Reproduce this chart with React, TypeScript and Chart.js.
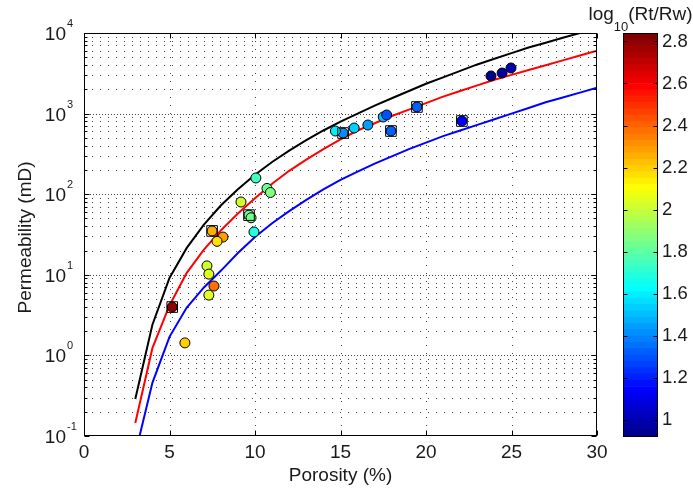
import React, { useEffect, useRef } from "react";
import { Chart, registerables } from "chart.js";

Chart.register(...registerables);

// ---- model curves: permeability (mD) sampled at integer porosity (%) ----
const PHI_CURVE = [3, 4, 5, 6, 7, 8, 9, 10, 11, 12, 13, 14, 15, 16, 17, 18, 19, 20, 21, 22, 23, 24, 25, 26, 27, 28, 29, 30];
const K_BLACK = [0.288, 2.4, 9.12, 21.4, 41.7, 72.4, 115, 174, 251, 347, 468, 617, 794, 1000, 1259, 1549, 1905, 2344, 2818, 3388, 4074, 4786, 5623, 6607, 7586, 8710, 10000, 11482];
const K_RED = [0.145, 1.23, 4.17, 10.5, 20.4, 35.5, 57.5, 89.1, 135, 195, 269, 363, 479, 617, 759, 933, 1122, 1349, 1622, 1905, 2239, 2630, 3020, 3467, 3981, 4571, 5248, 6026];
const K_BLUE = [0.0603, 0.457, 1.7, 3.89, 6.92, 11.2, 18.6, 29.5, 43.7, 61.7, 85.1, 115, 151, 191, 240, 295, 363, 437, 525, 617, 724, 851, 1000, 1175, 1380, 1585, 1820, 2089];

// ---- core samples: porosity (%), permeability (mD), log10(Rt/Rw) ----
const SAMPLE_PHI = [23.8, 24.45, 24.97, 22.1, 19.47, 17.5, 17.7, 17.95, 16.6, 15.8, 15.15, 14.7, 10.05, 10.7, 10.9, 9.18, 9.65, 9.77, 9.94, 7.49, 8.13, 7.78, 7.19, 7.3, 7.6, 7.3, 5.16, 5.9];
const SAMPLE_K = [2930, 3190, 3680, 809, 1208, 908, 961, 608, 722, 662, 574, 608, 159, 118, 105, 80, 55, 51, 34, 35, 29.4, 26, 12.9, 10.2, 7.26, 5.6, 3.98, 1.43];
const SAMPLE_LOGR = [0.95, 0.97, 1.0, 1.16, 1.33, 1.5, 1.28, 1.33, 1.45, 1.52, 1.42, 1.59, 1.74, 1.84, 1.88, 2.0, 1.83, 1.82, 1.69, 2.26, 2.28, 2.17, 2.0, 2.05, 2.36, 2.05, 2.79, 2.19];

// samples highlighted with an open square
const BOXED_PHI = [22.1, 19.47, 17.95, 15.15, 9.65, 7.49, 5.16];
const BOXED_K = [809, 1208, 608, 574, 55, 35, 3.98];

// ---- axes ----
const X_TICKS = [0, 5, 10, 15, 20, 25, 30];
const Y_DECADES = [-1, 0, 1, 2, 3, 4];
const CB_TICKS = [1, 1.2, 1.4, 1.6, 1.8, 2, 2.2, 2.4, 2.6, 2.8];
const CB_MIN = 0.92;
const CB_MAX = 2.84;
const CMAP_LEVELS = 64;

const FONT = "'Liberation Sans', Arial, Helvetica, sans-serif";
const TEXT = "#1a1a1a";
const GRID = "#444";

// jet colormap entry k = 1..64
function jetColor(k: number): string {
  const c = (v: number) => Math.max(0, Math.min(1, v));
  const r = c(Math.min((k - 24) / 16, (72 - k) / 16));
  const g = c(Math.min((k - 8) / 16, (56 - k) / 16));
  const b = c(Math.min((k + 8) / 16, (40 - k) / 16));
  return `rgb(${Math.round(r * 255)},${Math.round(g * 255)},${Math.round(b * 255)})`;
}
function colorFor(v: number): string {
  let k = Math.floor(((v - CB_MIN) / (CB_MAX - CB_MIN)) * CMAP_LEVELS) + 1;
  k = Math.max(1, Math.min(CMAP_LEVELS, k));
  return jetColor(k);
}

const axesDecor = {
  id: "axesDecor",
  beforeDatasetsDraw(chart: any) {
    const { ctx, chartArea: a, scales } = chart;
    const xs = scales.x;
    const ys = scales.y;
    ctx.save();
    ctx.strokeStyle = GRID;
    ctx.lineWidth = 1;
    ctx.setLineDash([1, 7]);
    for (const v of X_TICKS) {
      if (v <= xs.min || v >= xs.max) continue;
      const x = Math.round(xs.getPixelForValue(v)) + 0.5;
      ctx.beginPath();
      ctx.moveTo(x, a.top);
      ctx.lineTo(x, a.bottom);
      ctx.stroke();
    }
    for (const d of Y_DECADES) {
      for (let m = 1; m <= 9; m++) {
        const v = m * Math.pow(10, d);
        if (v <= ys.min * 1.0001 || v >= ys.max * 0.9999) continue;
        const y = Math.round(ys.getPixelForValue(v)) + 0.5;
        ctx.setLineDash(m === 1 ? [1, 2] : [1, 7]);
        ctx.beginPath();
        ctx.moveTo(a.left, y);
        ctx.lineTo(a.right, y);
        ctx.stroke();
      }
    }
    ctx.restore();
  },
  afterDraw(chart: any) {
    const { ctx, chartArea: a, scales } = chart;
    const xs = scales.x;
    const ys = scales.y;
    ctx.save();
    ctx.strokeStyle = "#000";
    ctx.lineWidth = 1;
    ctx.setLineDash([]);
    const L = a.left + 0.5, R = a.right - 0.5, T = a.top + 0.5, B = a.bottom - 0.5;
    ctx.strokeRect(L, T, R - L, B - T);

    // tick marks pointing inward
    ctx.beginPath();
    for (const v of X_TICKS) {
      const x = Math.round(xs.getPixelForValue(v)) + 0.5;
      ctx.moveTo(x, B); ctx.lineTo(x, B - 5);
      ctx.moveTo(x, T); ctx.lineTo(x, T + 5);
    }
    for (const d of Y_DECADES) {
      for (let m = 1; m <= 9; m++) {
        const v = m * Math.pow(10, d);
        if (v < ys.min * 0.9999 || v > ys.max * 1.0001) continue;
        const y = Math.round(ys.getPixelForValue(v)) + 0.5;
        const len = m === 1 ? 5 : 3;
        ctx.moveTo(L, y); ctx.lineTo(L + len, y);
        ctx.moveTo(R, y); ctx.lineTo(R - len, y);
      }
    }
    ctx.stroke();

    ctx.fillStyle = TEXT;
    // x tick labels
    ctx.font = `19px ${FONT}`;
    ctx.textAlign = "center";
    ctx.textBaseline = "alphabetic";
    for (const v of X_TICKS) {
      ctx.fillText(String(v), xs.getPixelForValue(v), a.bottom + 22);
    }
    // y tick labels as powers of ten
    for (const d of Y_DECADES) {
      const y = ys.getPixelForValue(Math.pow(10, d));
      ctx.font = `19px ${FONT}`;
      ctx.textAlign = "right";
      ctx.fillText("10", a.left - 18, y + 7);
      ctx.font = `11px ${FONT}`;
      ctx.textAlign = "left";
      ctx.fillText(String(d), a.left - 17, y - 6);
    }
    // axis titles
    ctx.font = `19px ${FONT}`;
    ctx.textAlign = "center";
    ctx.fillText("Porosity (%)", (a.left + a.right) / 2, a.bottom + 45);
    ctx.save();
    ctx.translate(a.left - 53, (a.top + a.bottom) / 2 + 3);
    ctx.rotate(-Math.PI / 2);
    ctx.fillText("Permeability (mD)", 0, 0);
    ctx.restore();
    ctx.restore();
  },
};

const colorbarDecor = {
  id: "colorbarDecor",
  afterDraw(chart: any) {
    const { ctx, chartArea: a, scales } = chart;
    const ys = scales.y;
    ctx.save();
    ctx.strokeStyle = "#000";
    ctx.lineWidth = 1;
    const L = a.left + 0.5, R = a.right - 0.5, T = a.top + 0.5, B = a.bottom - 0.5;
    ctx.strokeRect(L, T, R - L, B - T);
    ctx.beginPath();
    for (const v of CB_TICKS) {
      const y = Math.round(ys.getPixelForValue(v)) + 0.5;
      ctx.moveTo(L, y); ctx.lineTo(L + 4, y);
      ctx.moveTo(R, y); ctx.lineTo(R - 4, y);
    }
    ctx.stroke();

    // title: log10(Rt/Rw) with subscript
    ctx.fillStyle = TEXT;
    ctx.textAlign = "left";
    ctx.textBaseline = "alphabetic";
    ctx.font = `19px ${FONT}`;
    const w1 = ctx.measureText("log").width;
    const w3 = ctx.measureText("(Rt/Rw)").width;
    ctx.font = `13px ${FONT}`;
    const w2 = ctx.measureText("10").width;
    let x = (a.left + a.right) / 2 - (w1 + w2 + w3) / 2;
    ctx.font = `19px ${FONT}`;
    ctx.fillText("log", x, 20);
    x += w1;
    ctx.font = `13px ${FONT}`;
    ctx.fillText("10", x, 31);
    x += w2;
    ctx.font = `19px ${FONT}`;
    ctx.fillText("(Rt/Rw)", x, 20);
    ctx.restore();
  },
};

export default function App() {
  const mainRef = useRef<HTMLCanvasElement | null>(null);
  const cbRef = useRef<HTMLCanvasElement | null>(null);

  useEffect(() => {
    const curve = (ks: number[]) => PHI_CURVE.map((x, i) => ({ x, y: ks[i] }));
    const main = new Chart(mainRef.current as HTMLCanvasElement, {
      type: "scatter",
      data: {
        datasets: [
          {
            label: "boxed",
            data: BOXED_PHI.map((x, i) => ({ x, y: BOXED_K[i] })),
            pointStyle: "rect",
            pointRadius: 7.5,
            backgroundColor: "rgba(0,0,0,0)",
            borderColor: "#000",
            borderWidth: 1,
            order: 0,
          },
          {
            label: "samples",
            data: SAMPLE_PHI.map((x, i) => ({ x, y: SAMPLE_K[i] })),
            pointStyle: "circle",
            pointRadius: 5,
            backgroundColor: SAMPLE_LOGR.map(colorFor),
            borderColor: "#000",
            borderWidth: 1,
            order: 1,
          },
          { label: "black", data: curve(K_BLACK), showLine: true, borderColor: "#000", borderWidth: 2, pointRadius: 0, order: 2 },
          { label: "red", data: curve(K_RED), showLine: true, borderColor: "#ff0000", borderWidth: 2, pointRadius: 0, order: 2 },
          { label: "blue", data: curve(K_BLUE), showLine: true, borderColor: "#0000ff", borderWidth: 2, pointRadius: 0, order: 2 },
        ],
      } as any,
      options: {
        responsive: false,
        animation: false,
        events: [],
        layout: { padding: { left: 0, top: 33, right: 96, bottom: 0 } },
        plugins: { legend: { display: false }, tooltip: { enabled: false } },
        scales: {
          x: {
            type: "linear",
            min: 0,
            max: 30,
            ticks: { display: false },
            grid: { display: false },
            border: { display: false },
            afterFit: (s: any) => { s.height = 55; },
          },
          y: {
            type: "logarithmic",
            min: 0.1,
            max: 10000,
            ticks: { display: false },
            grid: { display: false },
            border: { display: false },
            afterFit: (s: any) => { s.width = 84; },
          },
        },
      } as any,
      plugins: [axesDecor],
    });

    const step = (CB_MAX - CB_MIN) / CMAP_LEVELS;
    const bands = Array.from({ length: CMAP_LEVELS }, (_, i) => ({
      data: [[CB_MIN + i * step, CB_MIN + (i + 1) * step]],
      backgroundColor: jetColor(i + 1),
      borderWidth: 0,
      grouped: false,
      barPercentage: 1,
      categoryPercentage: 1,
    }));
    const cb = new Chart(cbRef.current as HTMLCanvasElement, {
      type: "bar",
      data: { labels: [""], datasets: bands } as any,
      options: {
        responsive: false,
        animation: false,
        events: [],
        layout: { padding: { left: 63, top: 33, right: 0, bottom: 54 } },
        plugins: { legend: { display: false }, tooltip: { enabled: false } },
        scales: {
          x: { display: false },
          y: {
            position: "right",
            min: CB_MIN,
            max: CB_MAX,
            afterBuildTicks: (s: any) => { s.ticks = CB_TICKS.map((value) => ({ value })); },
            ticks: {
              autoSkip: false,
              padding: 4,
              color: TEXT,
              font: { family: FONT, size: 18.5 },
              callback: (v: any) => String(Math.round(Number(v) * 10) / 10),
            },
            grid: { display: false, drawTicks: false },
            border: { display: false },
            afterFit: (s: any) => { s.width = 35; },
          },
        },
      } as any,
      plugins: [colorbarDecor],
    });

    return () => {
      main.destroy();
      cb.destroy();
    };
  }, []);

  return (
    <div style={{ position: "fixed", left: 0, top: 0, width: 693, height: 491, background: "#fff" }}>
      <canvas ref={mainRef} width={693} height={491} style={{ position: "absolute", left: 0, top: 0 }} />
      <canvas ref={cbRef} width={133} height={491} style={{ position: "absolute", left: 560, top: 0 }} />
    </div>
  );
}
